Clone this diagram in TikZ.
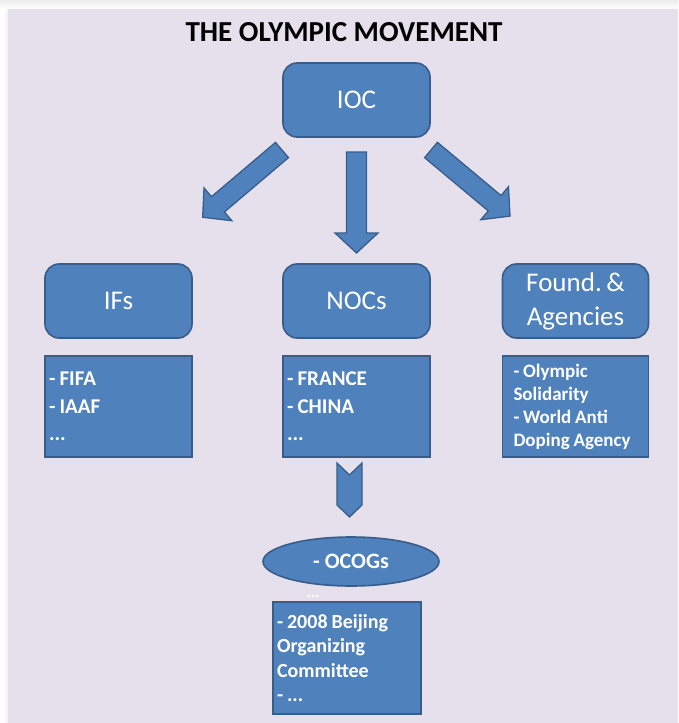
\documentclass[tikz,border=0pt]{standalone}
\usepackage{fontspec}
\setmainfont{Carlito}
\usetikzlibrary{shapes.geometric}
\definecolor{bgl}{HTML}{E5E0EC}
\definecolor{boxblue}{HTML}{4F81BD}
\definecolor{boxedge}{HTML}{385D8A}
\newcommand{\tightsp}{\spaceskip=0.2em\relax}
\newcommand{\blockarr}[3]{%
  \begin{scope}[shift={#1}, rotate=#2]
    \draw[barrow] (0,-10) -- ({#3-20},-10) -- ({#3-20},-21.5) -- (#3,0)
      -- ({#3-20},21.5) -- ({#3-20},10) -- (0,10) -- cycle;
  \end{scope}}
\begin{document}
\begin{tikzpicture}[x=1pt,y=-1pt,
  headbox/.style={draw=boxedge, line width=1.6pt, fill=boxblue, rounded corners=14pt,
    minimum width=147pt, minimum height=74pt, text=white, inner sep=0pt,
    font=\fontsize{27}{34}\selectfont, align=center},
  listbox/.style={draw=boxedge, line width=1.6pt, fill=boxblue, text=white,
    align=left, inner ysep=0pt},
  barrow/.style={draw=boxedge, line width=1.3pt, fill=boxblue, line join=miter}]
% background
\fill[white] (0,0) rectangle (678,723);
\shade[top color=black!7, bottom color=white] (0,0) rectangle (678,9);
\fill[black!4] (5,9) rectangle (8,723);
\fill[bgl] (8,9) rectangle (678,723);
\useasboundingbox (0,0) rectangle (678,723);

% title
\node[font=\fontsize{29}{34}\bfseries\selectfont] (title) at (344,32) {THE OLYMPIC MOVEMENT};

% heading boxes
\node[headbox] (ioc) at (356.5,100) {IOC};
\node[headbox] (ifs) at (118.5,301) {IFs};
\node[headbox] (nocs) at (356.5,301) {NOCs};
\node[headbox, minimum width=146pt] (found) at (575.5,301) {Found.\,\&\\Agencies};

% list boxes
\node[listbox, minimum width=147pt, minimum height=101pt, inner xsep=4pt, text width=139pt,
  font=\fontsize{21}{27.5}\bfseries\selectfont] (ifsl) at (118.5,406.5)
  {\tightsp - FIFA\\- IAAF\\...};
\node[listbox, minimum width=147pt, minimum height=101pt, inner xsep=4pt, text width=139pt,
  font=\fontsize{21}{27.5}\bfseries\selectfont] (nocsl) at (356.5,406.5)
  {\tightsp - FRANCE\\- CHINA\\...};
\node[listbox, minimum width=146pt, minimum height=101pt, inner xsep=11pt, text width=124pt,
  font=\fontsize{19}{23}\bfseries\selectfont] (foundl) at (575.5,406.5)
  {\tightsp - Olympic\\Solidarity\\- World Anti\\Doping Agency};

% arrows from IOC
\blockarr{(282,150)}{220.3}{104}
\blockarr{(356.5,152)}{270}{101}
\blockarr{(431,150)}{-39.9}{103}

% chevron from NOCs list to OCOGs
\draw[barrow] (337,463) -- (349.5,475) -- (362,463) -- (362,505) -- (349.5,517)
  -- (337,505) -- cycle;

% OCOGs
\node[ellipse, draw=boxedge, line width=1.6pt, fill=boxblue, text=white,
  minimum width=176pt, minimum height=49pt, inner sep=0pt,
  font=\fontsize{22}{26}\bfseries\selectfont] (ocog) at (351,561.5) {- OCOGs};
\node[text=white, font=\fontsize{16}{18}\bfseries\selectfont, inner sep=0pt] (dots) at (313,596) {...};
\node[listbox, minimum width=148pt, minimum height=112pt, inner xsep=4pt, text width=140pt,
  font=\fontsize{20}{24.5}\bfseries\selectfont] (ocogl) at (347,658)
  {\tightsp - 2008 Beijing\\Organizing\\Committee\\- ...};
\end{tikzpicture}
\end{document}
